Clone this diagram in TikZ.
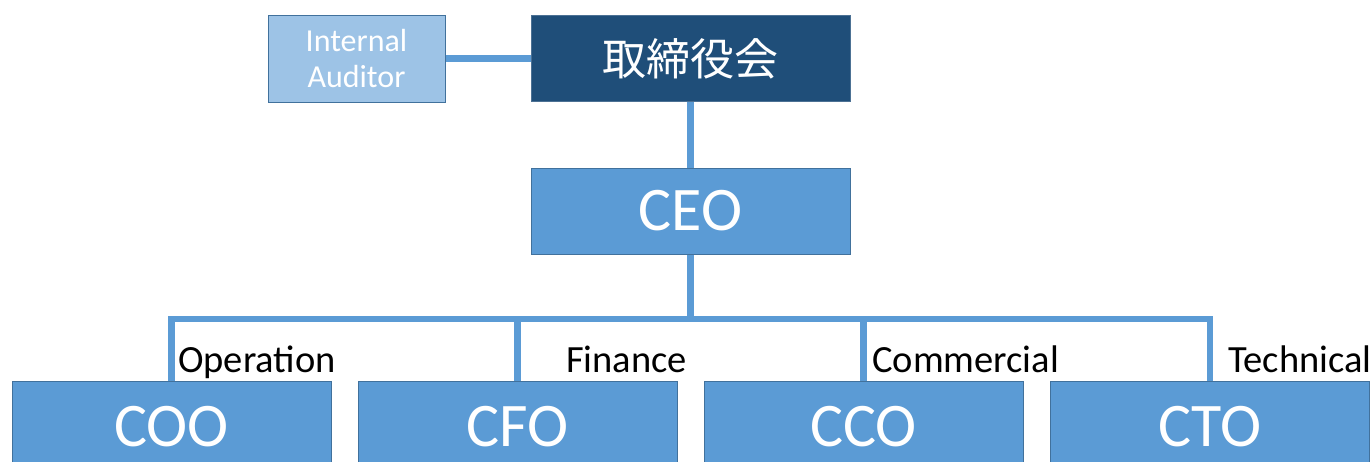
\documentclass[tikz,border=0pt]{standalone}
\usepackage{fontspec}
\setmainfont{Carlito}
\newfontfamily\jpfont{Noto Sans CJK JP}
\definecolor{midblue}{HTML}{5B9BD5}
\definecolor{edgeblue}{HTML}{41719C}
\definecolor{darkblue}{HTML}{1F4E79}
\definecolor{lightblue}{HTML}{9DC3E6}
\begin{document}
\begin{tikzpicture}[x=1pt,y=-1pt,
  box/.style={draw=edgeblue, line width=1pt, fill=midblue, text=white, inner sep=0pt,
    minimum width=319pt, minimum height=86pt, font=\fontsize{62}{62}\selectfont},
  lowbox/.style={box, minimum height=92pt},
  conn/.style={draw=midblue, line width=6.5pt},
  lbl/.style={anchor=base west, inner sep=0pt, font=\fontsize{38.5}{38.5}\selectfont}]
\useasboundingbox (0,0) rectangle (1371,461);
\node[box, fill=lightblue, minimum width=177pt, minimum height=87pt,
  font=\fontsize{32}{36}\selectfont, align=center] (aud) at (356.5,58.5) {Internal\\Auditor};
\node[box, fill=darkblue, draw=darkblue!80!white, font=\jpfont\fontsize{44}{44}\selectfont] (board) at (690.5,58.5) {取締役会};
\node[box] (ceo) at (690.5,211) {CEO};
\node[lowbox] (coo) at (171.5,427) {COO};
\node[lowbox] (cfo) at (517.5,427) {CFO};
\node[lowbox] (cco) at (863.5,427) {CCO};
\node[lowbox] (cto) at (1210,427) {CTO};
\coordinate (bus) at (690.5,319);
\draw[conn] (aud.east) -- (board.west);
\draw[conn] (board.south) -- (ceo.north);
\draw[conn] (ceo.south) -- (bus);
\draw[conn] (coo.north) |- (bus) -| (cto.north);
\draw[conn] (cfo.north) -- (cfo.north |- bus);
\draw[conn] (cco.north) -- (cco.north |- bus);
\node[lbl] (lop) at (178,372) {Operation};
\node[lbl] (lfi) at (566,372) {Finance};
\node[lbl] (lco) at (872,372) {Commercial};
\node[lbl] (lte) at (1228,372) {Technical};
\end{tikzpicture}
\end{document}
